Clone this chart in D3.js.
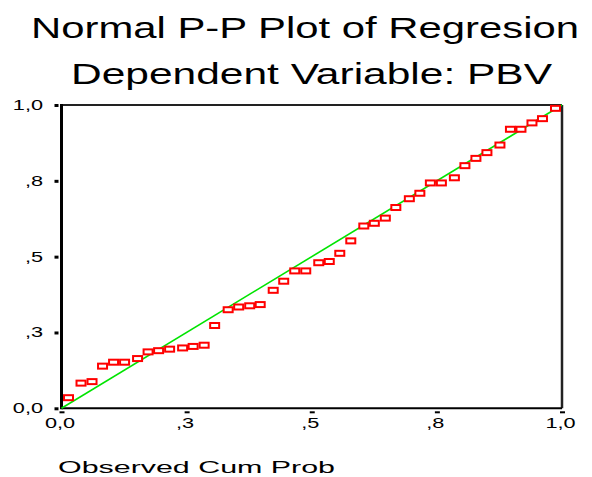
<!DOCTYPE html>
<html>
<head>
<meta charset="utf-8">
<script src="https://cdn.jsdelivr.net/npm/d3@7"></script>
<style>
  body { margin: 0; background: #fff; }
  text { font-family: "Liberation Sans", Arial, sans-serif; fill: #000; }
</style>
</head>
<body>
<svg id="chart" width="592" height="477"></svg>
<script>
// values (observed vs expected cumulative probability)
const observedCumProb = [
    0.014, 0.039, 0.061, 0.082, 0.104, 0.126, 0.152, 0.173, 0.194, 0.216,
    0.242, 0.263, 0.285, 0.306, 0.333, 0.354, 0.376, 0.397, 0.423, 0.444,
    0.466, 0.488, 0.514, 0.535, 0.556, 0.578, 0.604, 0.625, 0.647, 0.668,
    0.695, 0.716, 0.737, 0.759, 0.785, 0.806, 0.828, 0.850, 0.876, 0.897,
    0.918, 0.940, 0.961, 0.987
];
const expectedCumProb = [
    0.035, 0.083, 0.088, 0.139, 0.152, 0.152, 0.164, 0.186, 0.190, 0.195,
    0.199, 0.204, 0.208, 0.273, 0.325, 0.334, 0.338, 0.342, 0.389, 0.419,
    0.453, 0.453, 0.480, 0.484, 0.511, 0.552, 0.601, 0.610, 0.627, 0.662,
    0.691, 0.709, 0.743, 0.743, 0.760, 0.800, 0.824, 0.843, 0.868, 0.920,
    0.920, 0.941, 0.955, 0.989
];
const tickValues = [0, 0.25, 0.5, 0.75, 1];
const tickLabels = ['0,0', ',3', ',5', ',8', '1,0'];
const titleLines = ['Normal P-P Plot of Regresion', 'Dependent Variable: PBV'];
const xTitle = 'Observed Cum Prob';

const LEFT = 61.5, RIGHT = 562, TOP = 105, BOTTOM = 408.3;
const TICK_STRETCH = 1.55;

const svg = d3.select('#chart');

const x = d3.scaleLinear().domain([0, 1]).range([LEFT, RIGHT]);
const y = d3.scaleLinear().domain([0, 1]).range([BOTTOM, TOP]);

// SPSS output text is stretched sideways
function stretch(sel, factor) {
    sel.each(function () {
        const w = this.getComputedTextLength();
        d3.select(this).attr('textLength', w * factor).attr('lengthAdjust', 'spacingAndGlyphs');
    });
}

// titles
svg.append('text').text(titleLines[0])
    .attr('x', 31).attr('y', 38).attr('font-size', 30)
    .attr('textLength', 548).attr('lengthAdjust', 'spacingAndGlyphs');
svg.append('text').text(titleLines[1])
    .attr('x', 71).attr('y', 84).attr('font-size', 30)
    .attr('textLength', 481).attr('lengthAdjust', 'spacingAndGlyphs');

// axes
const fmt = (d) => tickLabels[tickValues.indexOf(d)];

const yAxis = svg.append('g')
    .attr('transform', 'translate(' + LEFT + ',0)')
    .call(d3.axisLeft(y).tickValues(tickValues).tickFormat(fmt).tickSize(0).tickPadding(18.5));
const xAxis = svg.append('g')
    .attr('transform', 'translate(0,' + BOTTOM + ')')
    .call(d3.axisBottom(x).tickValues(tickValues).tickFormat(fmt).tickSize(0).tickPadding(10));

[yAxis, xAxis].forEach(function (ax) {
    ax.select('.domain').remove();
    ax.selectAll('text').attr('font-size', 14).attr('font-family', null);
    stretch(ax.selectAll('text'), TICK_STRETCH);
});
xAxis.selectAll('text').attr('dx', -2);

// small square tick marks, set off from the axis
yAxis.selectAll('.tick line')
    .attr('x1', -7).attr('x2', -3).attr('stroke', '#000').attr('stroke-width', 3);
xAxis.selectAll('.tick line')
    .attr('y1', 3).attr('y2', 5).attr('x1', 0).attr('x2', 0)
    .attr('stroke', '#000').attr('stroke-width', 5);

// frame
svg.append('line').attr('x1', LEFT).attr('x2', RIGHT).attr('y1', TOP).attr('y2', TOP)
    .attr('stroke', '#222').attr('stroke-width', 2);
svg.append('line').attr('x1', RIGHT).attr('x2', RIGHT).attr('y1', TOP).attr('y2', BOTTOM)
    .attr('stroke', '#222').attr('stroke-width', 2.5);
svg.append('line').attr('x1', LEFT).attr('x2', RIGHT).attr('y1', BOTTOM).attr('y2', BOTTOM)
    .attr('stroke', '#000').attr('stroke-width', 2);
svg.append('line').attr('x1', LEFT).attr('x2', LEFT).attr('y1', TOP - 1).attr('y2', BOTTOM + 1)
    .attr('stroke', '#000').attr('stroke-width', 3);

// reference diagonal
svg.append('line')
    .attr('x1', x(0)).attr('y1', y(0)).attr('x2', x(1)).attr('y2', y(1))
    .attr('stroke', '#00e400').attr('stroke-width', 1.6);

// points
svg.append('g').selectAll('rect')
    .data(observedCumProb.map((d, i) => ({ obs: d, exp: expectedCumProb[i] })))
    .join('rect')
    .attr('x', d => x(d.obs) - 4.5)
    .attr('y', d => y(d.exp) - 2.5)
    .attr('width', 9)
    .attr('height', 5)
    .attr('fill', '#fff')
    .attr('stroke', '#ff0000')
    .attr('stroke-width', 2);

// x axis title
svg.append('text').text(xTitle)
    .attr('x', 58).attr('y', 473).attr('font-size', 17)
    .attr('textLength', 277).attr('lengthAdjust', 'spacingAndGlyphs');
</script>
</body>
</html>
